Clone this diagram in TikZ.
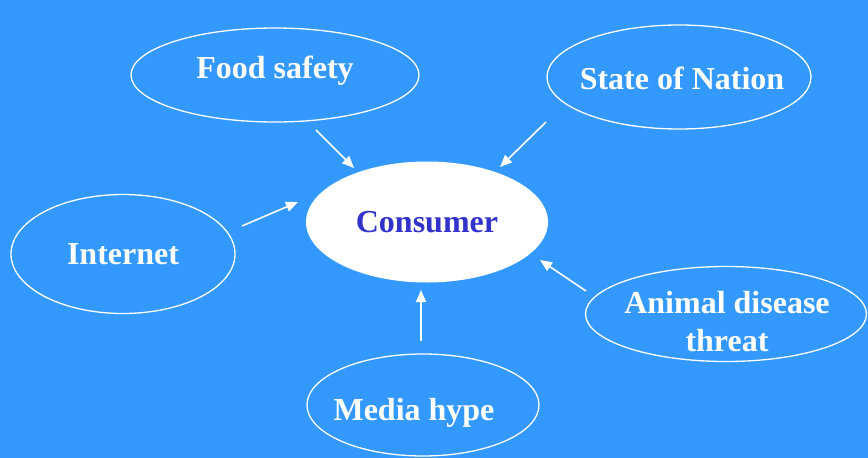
\documentclass[tikz,border=0pt]{standalone}
\usepackage{fontspec}
\setmainfont{Liberation Serif}
\usetikzlibrary{shapes.geometric,arrows.meta}
\definecolor{bgblue}{HTML}{3399FF}
\definecolor{txtblue}{HTML}{3333CC}
\begin{document}
\begin{tikzpicture}[x=1pt,y=-1pt,
  oval/.style={ellipse,draw=white,line width=1.3pt,inner sep=0pt},
  lbl/.style={text=white,font=\fontsize{32}{37}\selectfont\bfseries,align=center},
  arr/.style={draw=white,line width=1.6pt,-{Triangle[length=12pt,width=10pt]}}]
\fill[bgblue] (0,0) rectangle (868,458);
\useasboundingbox (0,0) rectangle (868,458);
% ellipses
\node[oval,minimum width=288,minimum height=94] (fs) at (275,75) {};
\node[oval,minimum width=264,minimum height=104] (sn) at (679,77) {};
\node[ellipse,fill=white,inner sep=0pt,minimum width=242,minimum height=121] (con) at (427,222) {};
\node[oval,minimum width=224,minimum height=119] (in) at (123,254) {};
\node[oval,minimum width=281,minimum height=95] (ad) at (726,314) {};
\node[oval,minimum width=232,minimum height=102] (mh) at (423,405) {};
% labels
\node[lbl] (fsT) at (275,71) {Food safety};
\node[lbl] (snT) at (682,78) {State of Nation};
\node[lbl,text=txtblue] (conT) at (427,222) {Consumer};
\node[lbl] (inT) at (123,254) {Internet};
\node[lbl] (adT) at (727,322) {Animal disease\\[1pt]threat};
\node[lbl] (mhT) at (414,413) {Media hype};
% arrow ends
\coordinate (fsA) at (316,130);
\coordinate (fsB) at (354,168);
\coordinate (snA) at (546,122);
\coordinate (snB) at (500,167);
\coordinate (inA) at (242,226);
\coordinate (inB) at (298,202);
\coordinate (adA) at (586,291);
\coordinate (adB) at (540,260);
\coordinate (mhA) at (421,341);
\coordinate (mhB) at (421,290);
\draw[arr] (fsA) -- (fsB);
\draw[arr] (snA) -- (snB);
\draw[arr] (inA) -- (inB);
\draw[arr] (adA) -- (adB);
\draw[arr] (mhA) -- (mhB);
\end{tikzpicture}
\end{document}
